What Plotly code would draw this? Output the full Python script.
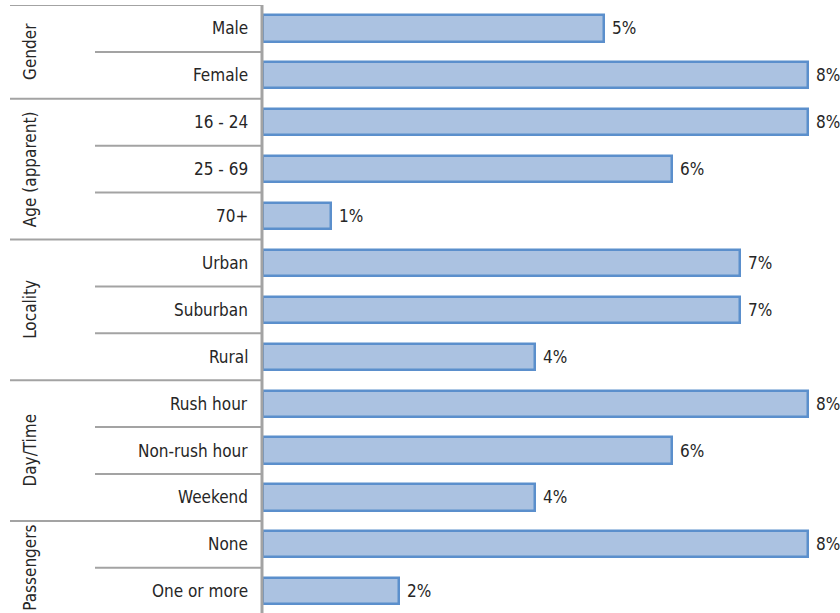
import plotly.graph_objects as go

categories = ["Male", "Female", "16 - 24", "25 - 69", "70+", "Urban", "Suburban", "Rural",
              "Rush hour", "Non-rush hour", "Weekend", "None", "One or more"]
values = [5, 8, 8, 6, 1, 7, 7, 4, 8, 6, 4, 8, 2]
groups = ["Gender", "Age (apparent)", "Locality", "Day/Time", "Passengers"]
group_sizes = [2, 3, 3, 3, 2]
value_labels = [f"{v}%" for v in values]

FONT = "DejaVu Sans Condensed, Liberation Sans Narrow, sans-serif"
TXT = "#262626"
GRID = "#a3a3a3"

W, H = 840, 613
L, T = 263, 5
plot_w = W - L
px_per_unit = 68.1
xmax = plot_w / px_per_unit
row_h = 46.9
ymax = -0.5 + (H - T) / row_h

ys = list(range(len(categories)))

fig = go.Figure()
fig.add_trace(go.Bar(
    x=values, y=ys, orientation="h",
    width=0.56,
    marker=dict(color="#abc2e1", line=dict(color="#5b8fcc", width=2.5)),
    cliponaxis=False,
    hoverinfo="skip",
))

def px_to_paper(px):
    return (px - L) / plot_w

shapes = []
annotations = []
for i, (c, v, lab) in enumerate(zip(categories, values, value_labels)):
    annotations.append(dict(x=0, xref="paper", y=i, yref="y", text=c, showarrow=False,
                            xanchor="right", xshift=-13, font=dict(family=FONT, size=17, color=TXT)))
    annotations.append(dict(x=v, xref="x", y=i, yref="y", text=lab, showarrow=False,
                            xanchor="left", xshift=6, font=dict(family=FONT, size=17, color=TXT)))
start = 0
for g, n in zip(groups, group_sizes):
    shapes.append(dict(type="line", xref="paper", yref="y", x0=px_to_paper(10), x1=px_to_paper(262),
                       y0=start - 0.5, y1=start - 0.5, line=dict(color=GRID, width=2)))
    for k in range(1, n):
        shapes.append(dict(type="line", xref="paper", yref="y", x0=px_to_paper(95), x1=px_to_paper(262),
                           y0=start + k - 0.5, y1=start + k - 0.5, line=dict(color=GRID, width=2)))
    center = start + (n - 1) / 2
    annotations.append(dict(x=px_to_paper(30), xref="paper", y=center, yref="y", text=g,
                            showarrow=False, textangle=-90, xanchor="center", yanchor="middle",
                            font=dict(family=FONT, size=17, color=TXT)))
    start += n

shapes.append(dict(type="line", xref="paper", yref="paper", x0=px_to_paper(262), x1=px_to_paper(262),
                   y0=0, y1=1, line=dict(color=GRID, width=3)))

fig.update_layout(
    width=W, height=H,
    margin=dict(l=L, r=0, t=T, b=0),
    paper_bgcolor="white", plot_bgcolor="white",
    showlegend=False,
    xaxis=dict(range=[0, xmax], visible=False, fixedrange=True),
    yaxis=dict(range=[ymax, -0.5], visible=False, fixedrange=True),
    shapes=shapes, annotations=annotations,
    bargap=0,
)

fig.write_html("out.html")
